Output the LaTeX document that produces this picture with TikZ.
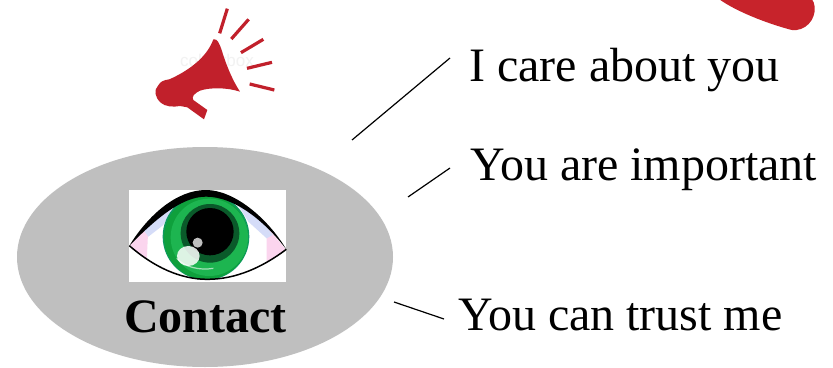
\documentclass[tikz,border=0pt]{standalone}
\usepackage{fontspec}
\usetikzlibrary{shapes.geometric}
\setmainfont{Liberation Serif}
\newfontfamily\wmfont{Liberation Sans}
\definecolor{megared}{HTML}{C1202B}
\definecolor{blobred}{HTML}{C7232B}
\definecolor{discgray}{HTML}{BFBFBF}
\definecolor{irisgreen}{HTML}{0FA03C}
\definecolor{irisdark}{HTML}{0A5A2A}
\definecolor{irislight}{HTML}{1DB550}
\definecolor{irisrim}{HTML}{0E9A60}
\definecolor{cornerpink}{HTML}{FBD5EE}
\definecolor{lidblue}{HTML}{D5DCF8}
\tikzset{
  label text/.style={font=\fontsize{48}{48}\selectfont,anchor=base west,inner sep=0pt,text=black},
  connector/.style={draw=black,line width=1.2pt},
  ray/.style={draw=megared,line width=3.2pt},
  zoomA/.style={shift={(130,0)},x=0.3333pt,y=-0.3333pt},
  zoomB/.style={shift={(120,180)},x=0.3333pt,y=-0.3333pt},
  zoomC/.style={shift={(710,0)},x=0.3333pt,y=-0.3333pt}
}
\begin{document}
\begin{tikzpicture}[x=1pt,y=-1pt]
\useasboundingbox (0,0) rectangle (833,367);
\fill[white] (0,0) rectangle (833,367);
% corner blob
\begin{scope}[zoomC]
\fill[blobred] (28,-2) .. controls (80,35) and (170,70) .. (245,90)
  .. controls (285,95) and (318,60) .. (314,20) .. controls (313,10) and (310,4) .. (306,-2) -- cycle;
\end{scope}
% contact disc
\node[ellipse,fill=discgray,minimum width=376pt,minimum height=220pt,inner sep=0pt] (disc) at (205,257) {};
% megaphone
\node[font=\wmfont\fontsize{17}{17}\selectfont,text=black!5,inner sep=0pt] (wm) at (217,60) {colourbox};
\begin{scope}[zoomA]
\fill[megared] (250,118) .. controls (262,115) and (268,130) .. (275,150)
  .. controls (290,200) and (310,245) .. (330,275)
  .. controls (290,262) and (240,262) .. (210,272)
  .. controls (192,280) and (184,292) .. (190,300)
  -- (232,330) -- (222,358) -- (172,322) -- (150,318)
  .. controls (130,322) and (105,320) .. (92,308)
  .. controls (75,292) and (70,270) .. (85,256)
  .. controls (90,246) and (100,240) .. (118,238)
  .. controls (170,215) and (230,175) .. (250,118) -- cycle;
\draw[ray] (292,26) -- (269,100);
\draw[ray] (356,58) -- (304,117);
\draw[ray] (400,118) -- (333,158);
\draw[ray] (426,187) -- (351,205);
\draw[ray] (433,270) -- (359,252);
\end{scope}
% eye picture
\begin{scope}[zoomB]
\fill[white] (27,30) rectangle (497,305);
\begin{scope}
\clip (28,197) .. controls (85,105) and (170,30) .. (258,30)
  .. controls (340,30) and (440,110) .. (499,208)
  .. controls (430,260) and (350,298) .. (262,298)
  .. controls (180,298) and (100,260) .. (28,197) -- cycle;
\fill[cornerpink] (30,195) -- (85,140) -- (80,245) -- cycle;
\fill[cornerpink] (497,208) -- (440,140) -- (440,262) -- cycle;
\fill[lidblue] (70,150) .. controls (95,115) and (130,85) .. (170,62) -- (130,135) -- (85,170) -- cycle;
\fill[lidblue] (345,60) .. controls (400,85) and (430,125) .. (458,165) -- (440,175) -- (385,125) -- cycle;
\end{scope}
\fill[irisrim] (258,170) circle [radius=130];
\fill[irisgreen] (258,172) circle [radius=126];
\fill[irislight] (268,172) circle [radius=116];
\fill[irisdark] (270,160) circle [radius=88];
\fill[black] (270,155) circle [radius=71];
\fill[black!25] (233,188) circle [radius=15];
\fill[white,opacity=.85] (205,228) ellipse [x radius=34,y radius=30];
\draw[white,opacity=.6,line width=1.2pt] (170,235) .. controls (195,262) and (240,272) .. (280,265);
\fill[black] (28,197) .. controls (85,105) and (170,30) .. (258,30)
  .. controls (340,30) and (440,110) .. (499,208)
  .. controls (435,125) and (345,50) .. (258,50)
  .. controls (180,50) and (100,125) .. (28,197) -- cycle;
\draw[black,line width=1.5pt] (28,197) .. controls (100,260) and (180,298) .. (262,298)
  .. controls (350,298) and (430,260) .. (499,208);
\end{scope}
% labels
\node[label text] (t1) at (469,81) {I care about you};
\node[label text] (t2) at (470,180) {You are important};
\node[label text] (t3) at (458,330) {You can trust me};
\node[font=\bfseries\fontsize{48}{48}\selectfont,anchor=base west,inner sep=0pt] (contact) at (124,332) {Contact};
% connectors
\coordinate (a1) at (352,140); \coordinate (b1) at (450,58);
\coordinate (a2) at (408,197); \coordinate (b2) at (450,168);
\coordinate (a3) at (394,302); \coordinate (b3) at (444,319);
\draw[connector] (a1) -- (b1);
\draw[connector] (a2) -- (b2);
\draw[connector] (a3) -- (b3);
\end{tikzpicture}
\end{document}
